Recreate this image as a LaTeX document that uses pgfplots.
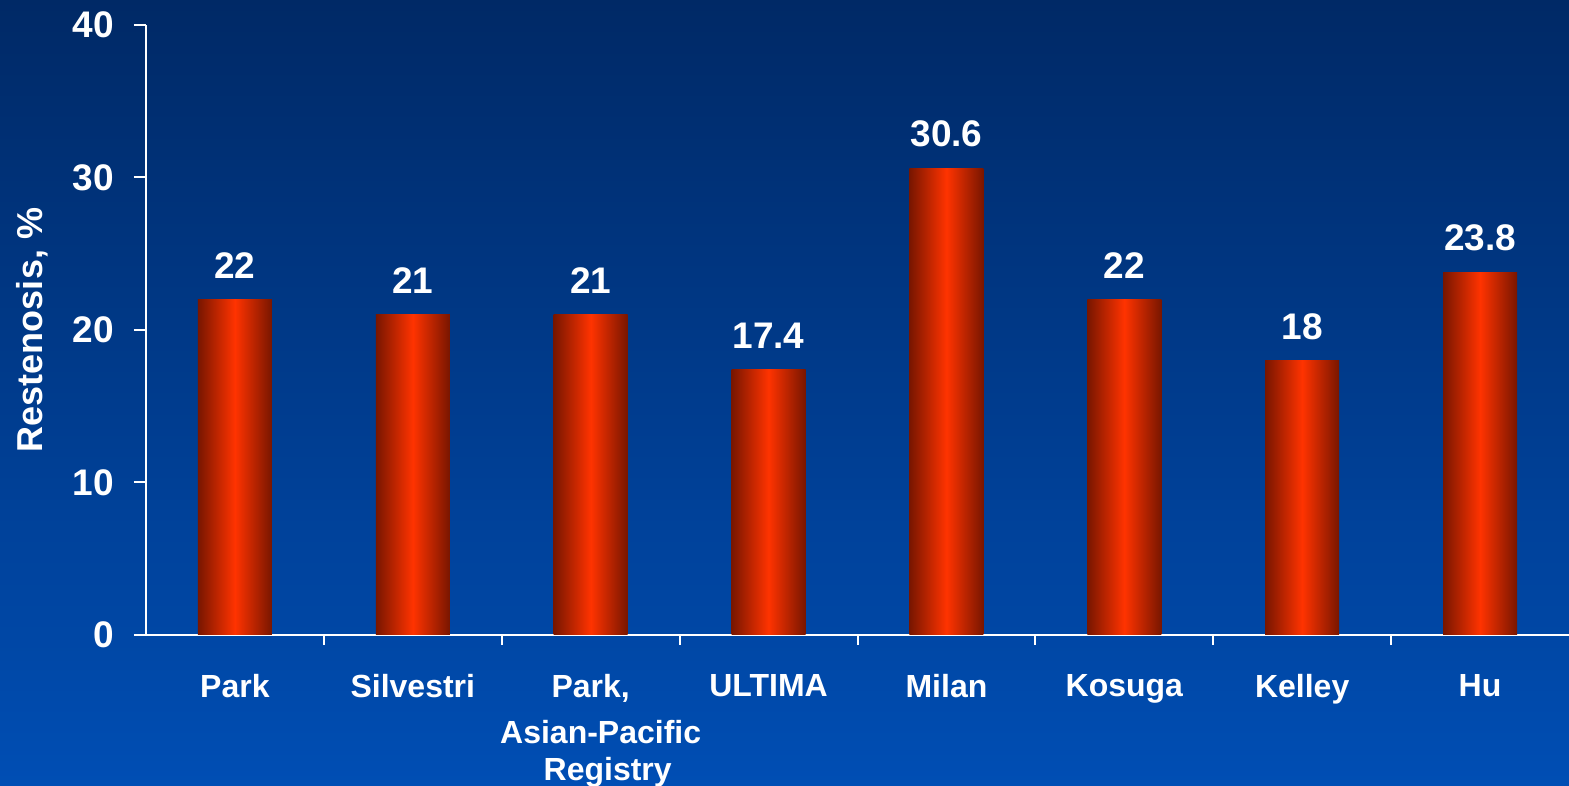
\documentclass[border=0pt]{standalone}
\usepackage{fontspec}
\setmainfont{Liberation Sans}
\usepackage{pgfplots}
\pgfplotsset{compat=1.18}
\usetikzlibrary{backgrounds}

\definecolor{bgtop}{RGB}{0,41,102}
\definecolor{bgbot}{RGB}{0,78,180}
\definecolor{bardark}{RGB}{120,22,0}
\definecolor{barbright}{RGB}{255,51,0}

\begin{document}
\begin{tikzpicture}
\begin{axis}[
  width=711.5pt, height=305pt, scale only axis,
  xmin=-0.5, xmax=7.5, ymin=0, ymax=40,
  axis x line*=bottom, axis y line*=left,
  axis line style={white, line width=1pt},
  /pgf/number format/assume math mode=true,
  xtick={0,...,7},
  xticklabels={Park, Silvestri, {Park,\\[2pt]\hspace*{10pt}Asian-Pacific\\[-2.5pt]\hspace*{17pt}Registry}, ULTIMA, Milan, Kosuga, Kelley, Hu},
  xticklabel style={align=center, font=\fontsize{16}{21}\selectfont\bfseries, text=white, anchor=north, yshift=-10pt},
  major x tick style={draw=none},
  minor xtick={0.5,1.5,...,6.5},
  minor x tick style={white, line width=1pt},
  ytick={0,10,20,30,40},
  y tick style={white, line width=1pt},
  yticklabel style={font=\fontsize{18.5}{21}\selectfont\bfseries, text=white, xshift=-6.5pt},
  tick align=outside,
  major tick length=6pt, minor tick length=5pt,
  ylabel={Restenosis, \%},
  every axis y label/.style={at={(rel axis cs:0,0.5)}, xshift=-57pt, rotate=90, anchor=center, font=\fontsize{18}{21}\selectfont\bfseries, text=white},
  ybar, bar width=37pt, bar shift=0pt,
  nodes near coords,
  every node near coord/.append style={font=\fontsize{18.5}{21}\selectfont\bfseries, text=white, yshift=7pt},
  barstyle/.style={draw=none, left color=bardark, right color=bardark, middle color=barbright},
]
\addplot[barstyle] coordinates {(0,22)};
\addplot[barstyle] coordinates {(1,21)};
\addplot[barstyle] coordinates {(2,21)};
\addplot[barstyle] coordinates {(3,17.4)};
\addplot[barstyle] coordinates {(4,30.6)};
\addplot[barstyle] coordinates {(5,22)};
\addplot[barstyle] coordinates {(6,18)};
\addplot[barstyle] coordinates {(7,23.8)};
\coordinate (O) at (rel axis cs:0,0);
\coordinate (T) at (rel axis cs:1,1);
\end{axis}
\begin{scope}[on background layer]
\shade[top color=bgtop, bottom color=bgbot] ([shift={(-73pt,-75.5pt)}]O) rectangle ([shift={(0pt,12.5pt)}]T);
\end{scope}
\pgfresetboundingbox
\path[use as bounding box] ([shift={(-73pt,-75.5pt)}]O) rectangle ([shift={(0pt,12.5pt)}]T);
\end{tikzpicture}
\end{document}
